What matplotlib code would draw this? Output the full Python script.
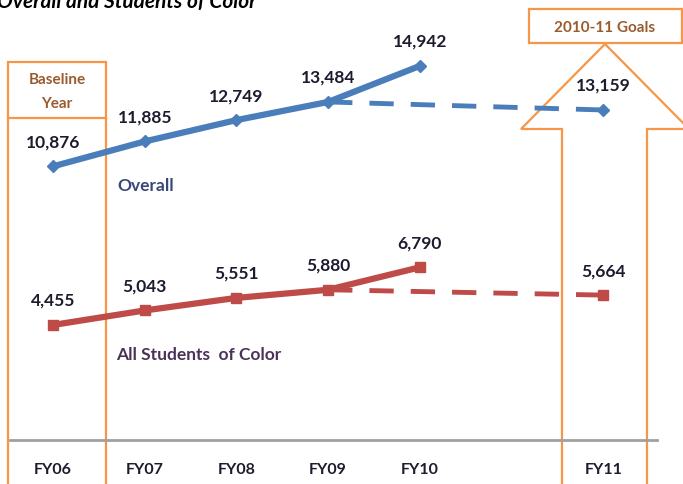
import matplotlib.pyplot as plt
from matplotlib.patches import Rectangle, Polygon

plt.rcParams['font.family'] = ['Lato', 'DejaVu Sans']

# data
years = ['FY06', 'FY07', 'FY08', 'FY09', 'FY10', 'FY11']
xpos = [0, 1, 2, 3, 4, 6]          # FY11 sits one empty slot to the right
overall = [10876, 11885, 12749, 13484, 14942]
overall_goal = 13159
color_students = [4455, 5043, 5551, 5880, 6790]
color_goal = 5664

blue = '#4A7EBB'
red = '#BE4B48'
orange = '#F79646'
label_col = '#1C1C2E'

fig = plt.figure(figsize=(6.83, 4.85), dpi=100)

# main axes: bottom edge sits on the grey category line
ax = fig.add_axes([0, 44 / 485, 1, 441 / 485])
ax.set_xlim(-0.578, 6.87)
ax.set_ylim(-202, 17652)

hist_x = xpos[:5]
ax.plot(hist_x, overall, color=blue, lw=4.5, marker='D', ms=6,
        solid_capstyle='round', zorder=4)
ax.plot([hist_x[-2], xpos[5]], [overall[3], overall_goal], color=blue,
        lw=3.5, dashes=(5, 3.5), zorder=3)
ax.plot([xpos[5]], [overall_goal], color=blue, marker='D', ms=6, ls='none', zorder=4)

ax.plot(hist_x, color_students, color=red, lw=4.5, marker='s', ms=6.5,
        solid_capstyle='round', zorder=4)
ax.plot([hist_x[-2], xpos[5]], [color_students[3], color_goal], color=red,
        lw=3.5, dashes=(5, 3.5), zorder=3)
ax.plot([xpos[5]], [color_goal], color=red, marker='s', ms=6.5, ls='none', zorder=4)

# value labels
for x, v in zip(xpos, overall + [overall_goal]):
    ax.annotate(f'{v:,}', (x, v), xytext=(0, 18), textcoords='offset points',
                ha='center', va='center', fontsize=12.5, fontweight='bold',
                color=label_col)
for x, v in zip(xpos, color_students + [color_goal]):
    ax.annotate(f'{v:,}', (x, v), xytext=(0, 18), textcoords='offset points',
                ha='center', va='center', fontsize=12.5, fontweight='bold',
                color=label_col)

ax.set_xticks(xpos)
ax.set_xticklabels(years, fontsize=11.5, fontweight='bold', color=label_col)
ax.tick_params(axis='x', length=0, pad=16)
ax.set_yticks([])
for s in ['top', 'right', 'left']:
    ax.spines[s].set_visible(False)
ax.spines['bottom'].set_color('#A0A0A0')
ax.spines['bottom'].set_linewidth(2)
ax.spines['bottom'].set_bounds(-0.47, 6.59)

# decorations in pixel coordinates
deco = fig.add_axes([0, 0, 1, 1], zorder=-1)
deco.set_xlim(0, 683)
deco.set_ylim(485, 0)
deco.axis('off')
deco.patch.set_alpha(0)
ax.patch.set_alpha(0)

deco.add_patch(Rectangle((8, 63), 98, 56, fill=False, ec=orange, lw=1.6))
deco.plot([8, 8], [119, 490], color=orange, lw=1.6)
deco.plot([106, 106], [119, 490], color=orange, lw=1.6)
deco.text(57, 80, 'Baseline', ha='center', va='center', fontsize=11,
          fontweight='bold', color='#9A5B2E')
deco.text(57, 104, 'Year', ha='center', va='center', fontsize=11,
          fontweight='bold', color='#9A5B2E')

deco.add_patch(Rectangle((529, 10), 153, 34, fill=False, ec=orange, lw=1.6))
deco.text(605, 28, '2010-11 Goals', ha='center', va='center', fontsize=11,
          fontweight='bold', color='#9A5B2E')
deco.add_patch(Polygon([(562, 500), (562, 130), (521, 130), (605, 45),
                        (689, 130), (647, 130), (647, 500)],
                       closed=False, fill=False, ec=orange, lw=1.6))

ax.text(1, 13400 - 5600, '', fontsize=1)
deco.text(117, 186, 'Overall', ha='left', va='center', fontsize=12.5,
          fontweight='bold', color='#3A4877')
deco.text(116, 355, 'All Students  of Color', ha='left', va='center',
          fontsize=12.5, fontweight='bold', color='#4B3358')

fig.text(-3 / 683, 1 - 8 / 485, 'Overall and Students of Color', ha='left',
         va='baseline', fontsize=15, fontweight='bold', fontstyle='italic',
         color='black')

fig.savefig('out.png', dpi=100)
